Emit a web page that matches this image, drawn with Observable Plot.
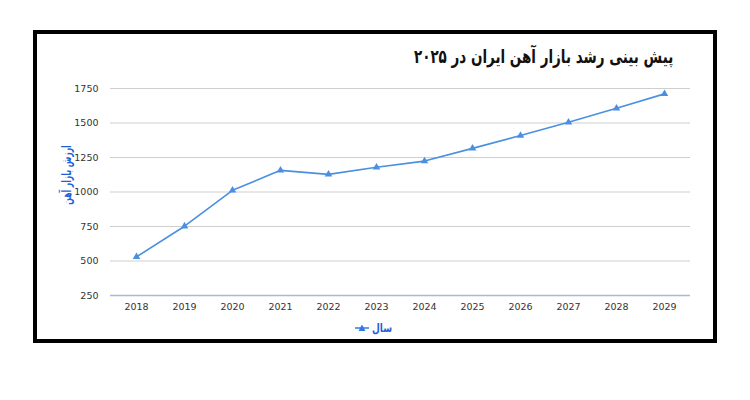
<!DOCTYPE html>
<html>
<head>
<meta charset="utf-8">
<script src="https://cdn.jsdelivr.net/npm/d3@7"></script>
<script src="https://cdn.jsdelivr.net/npm/@observablehq/plot@0.6"></script>
<style>
  html, body { margin: 0; padding: 0; background: #fff; }
  body { width: 750px; height: 400px; position: relative; overflow: hidden; font-family: "DejaVu Sans", "Noto Sans", sans-serif; }
  #frame { position: absolute; left: 33px; top: 30px; width: 684px; height: 313px; box-sizing: border-box; border: 4px solid #000; background: #fff; }
  #title { position: absolute; right: 40px; top: 11px; font-size: 19px; font-weight: bold; color: #111; direction: rtl; white-space: nowrap; transform: scaleX(0.71); transform-origin: right center; }
  #chart { position: absolute; left: 0; top: 36px; }
  #ylabel { position: absolute; left: 29px; top: 141px; transform: translate(-50%, -50%) rotate(-90deg) scaleX(0.59); font-size: 13px; font-weight: bold; color: #1f5fd6; direction: rtl; white-space: nowrap; }
  #legend { position: absolute; left: 318px; top: 287px; display: flex; align-items: center; gap: 3px; font-size: 12px; font-weight: bold; color: #1f5fd6; direction: ltr; }
  #legend span { display: inline-block; transform: scaleX(0.75); transform-origin: left center; }
</style>
</head>
<body>
<div id="frame">
  <div id="title">پیش بینی رشد بازار آهن ایران در ۲۰۲۵</div>
  <div id="chart"></div>
  <div id="ylabel">ارزش بازار آهن</div>
  <div id="legend"><svg width="14" height="8"><line x1="0" y1="4" x2="14" y2="4" stroke="#2f7be0" stroke-width="1.5"/><path d="M7,0.5 L10.5,7 L3.5,7 Z" fill="#2f7be0"/></svg><span>سال</span></div>
</div>
<script>
const years = ["2018","2019","2020","2021","2022","2023","2024","2025","2026","2027","2028","2029"];
const values = [530, 752, 1012, 1157, 1128, 1179, 1224, 1316, 1409, 1505, 1607, 1711];
const yTicks = [250, 500, 750, 1000, 1250, 1500, 1750];

const data = years.map((y, i) => ({year: y, value: values[i]}));
const lineColor = "#4a90e2";

const chart = Plot.plot({
  width: 676,
  height: 250,
  marginTop: 18,
  marginBottom: 25,
  marginLeft: 73,
  marginRight: 23,
  style: {fontFamily: "DejaVu Sans, sans-serif", fontSize: "9.5px", color: "#333", background: "transparent"},
  x: {type: "point", domain: years, padding: 0.5, label: null},
  y: {domain: [250, 1750], label: null},
  marks: [
    Plot.ruleY(yTicks.slice(1), {stroke: "#cfcfcf", strokeWidth: 1}),
    Plot.ruleY([250], {stroke: "#aab8dc", strokeWidth: 1.5}),
    Plot.axisY({ticks: yTicks, tickFormat: d3.format("d"), tickSize: 0, tickPadding: 12, label: null}),
    Plot.axisX({tickSize: 0, tickPadding: 8, label: null}),
    Plot.line(data, {x: "year", y: "value", stroke: lineColor, strokeWidth: 1.6}),
    Plot.dot(data, {x: "year", y: "value", symbol: "triangle", r: 2.8, fill: lineColor, stroke: "none"})
  ]
});
document.getElementById("chart").appendChild(chart);
</script>
</body>
</html>
